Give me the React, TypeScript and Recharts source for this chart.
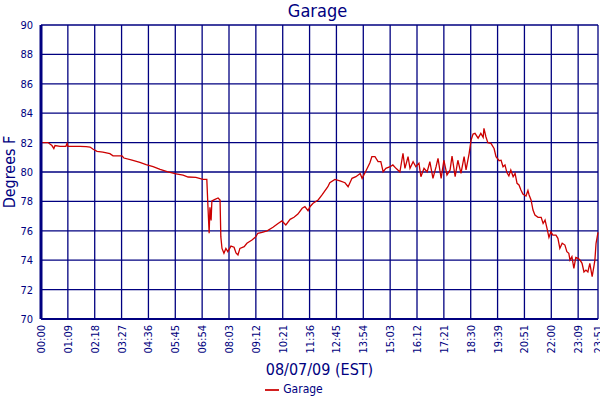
import { LineChart, Line, XAxis, YAxis, CartesianGrid, Legend } from "recharts";

const NAVY = "#000080";
const RED = "#cc0000";
const FONT = "'DejaVu Sans Condensed', 'DejaVu Sans', sans-serif";

// minutes after midnight
const MINUTES = [
  0, 18, 23, 28, 33, 36, 49, 64, 67, 69, 100, 116, 126, 134, 144, 159, 177, 185, 208, 213,
  234, 254, 270, 288, 306, 324, 347, 365, 378, 398, 416, 426, 429, 432, 434, 437, 439, 447, 455, 460,
  462, 465, 470, 475, 480, 488, 496, 501, 506, 511, 522, 529, 542, 552, 557, 568, 581, 596, 609, 619,
  629, 640, 650, 660, 671, 678, 686, 691, 699, 712, 722, 737, 742, 755, 768, 781, 789, 799, 809, 820,
  825, 835, 845, 850, 858, 866, 873, 879, 886, 897, 904, 912, 922, 930, 935, 943, 948, 956, 963, 971,
  976, 984, 992, 999, 1007, 1015, 1020, 1028, 1035, 1043, 1051, 1056, 1064, 1071, 1079, 1087, 1092, 1100, 1105, 1110,
  1115, 1123, 1130, 1136, 1138, 1143, 1148, 1156, 1164, 1169, 1177, 1182, 1187, 1192, 1197, 1202, 1207, 1213, 1218, 1223,
  1228, 1233, 1238, 1246, 1251, 1254, 1259, 1264, 1269, 1277, 1285, 1290, 1295, 1300, 1305, 1310, 1315, 1323, 1328, 1333,
  1339, 1346, 1351, 1356, 1359, 1364, 1369, 1374, 1380, 1385, 1390, 1395, 1400, 1405, 1410, 1416, 1421, 1423, 1426, 1431,
];

const GARAGE = [
  82.0, 82.0, 81.9, 81.8, 81.6, 81.8, 81.75, 81.75, 81.95, 81.75, 81.75, 81.72, 81.7, 81.55, 81.4, 81.35, 81.25, 81.1, 81.1, 80.95,
  80.8, 80.65, 80.5, 80.36, 80.18, 80.02, 79.88, 79.78, 79.66, 79.64, 79.5, 79.5, 77.6, 75.83, 77.6, 76.7, 78.03, 78.14, 78.23, 78.1,
  75.6, 74.8, 74.47, 74.8, 74.58, 74.96, 74.88, 74.5, 74.35, 74.8, 74.92, 75.15, 75.37, 75.6, 75.83, 75.9, 76.0, 76.24, 76.5, 76.67,
  76.4, 76.78, 76.92, 77.14, 77.53, 77.64, 77.37, 77.64, 77.87, 78.1, 78.44, 79.0, 79.27, 79.5, 79.4, 79.27, 79.0, 79.57, 79.68, 79.9,
  79.57, 80.09, 80.63, 81.04, 81.04, 80.7, 80.7, 80.02, 80.25, 80.36, 80.48, 80.25, 80.0, 81.27, 80.25, 81.04, 80.25, 80.7, 80.36, 80.6,
  79.68, 80.25, 80.0, 80.7, 79.57, 80.36, 80.93, 79.57, 80.8, 79.8, 80.14, 81.09, 79.68, 80.8, 79.9, 81.04, 80.14, 81.27, 82.18, 82.58,
  82.63, 82.3, 82.63, 82.36, 82.97, 82.4, 82.0, 81.95, 81.6, 81.04, 80.77, 80.8, 80.36, 80.48, 79.96, 79.73, 80.14, 79.68, 79.9, 79.23,
  79.12, 78.78, 78.5, 78.37, 78.74, 78.44, 78.1, 77.41, 77.07, 76.92, 76.92, 76.5, 76.73, 76.17, 75.56, 75.94, 75.71, 75.71, 75.49, 74.81,
  75.15, 75.03, 74.58, 74.47, 74.01, 74.24, 73.45, 74.19, 74.13, 74.0, 73.79, 73.2, 73.33, 73.2, 73.79, 72.88, 73.67, 74.0, 75.15, 75.9,
];

const TICK_POSITIONS = [
  0, 69, 138, 207, 276, 345, 414, 483, 552, 621, 690, 759, 828, 897, 966, 1035, 1104, 1173, 1242, 1311, 1380, 1431,
];
const TICK_LABELS = [
  "00:00", "01:09", "02:18", "03:27", "04:36", "05:45", "06:54", "08:03", "09:12", "10:21", "11:36",
  "12:45", "13:54", "15:03", "16:12", "17:21", "18:30", "19:39", "20:51", "22:00", "23:09", "23:51",
];

const Y_TICKS = [70, 72, 74, 76, 78, 80, 82, 84, 86, 88, 90];

const data = MINUTES.map((m, i) => ({ minute: m, garage: GARAGE[i] }));

function TimeTick({ x, y, index }: any) {
  return (
    <g transform={`translate(${x},${y}) rotate(-90)`}>
      <text x={-4} y={0} dy="0.36em" textAnchor="end" fill={NAVY} fontSize={11} fontFamily={FONT}>
        {TICK_LABELS[index]}
      </text>
    </g>
  );
}

export default function App() {
  return (
    <div style={{ position: "absolute", left: 0, top: 0, width: 600, height: 400, background: "#fff", fontFamily: FONT }}>
      <div
        style={{
          position: "absolute",
          top: 0,
          left: 0,
          width: 635,
          textAlign: "center",
          color: NAVY,
          fontSize: 18,
          lineHeight: "21px",
        }}
      >
        Garage
      </div>
      <LineChart width={600} height={400} data={data} margin={{ top: 25, right: 2, left: 0, bottom: 0 }}>
        <CartesianGrid stroke={NAVY} strokeWidth={1.3} />
        <XAxis
          dataKey="minute"
          type="number"
          domain={[0, 1431]}
          ticks={TICK_POSITIONS}
          interval={0}
          tick={<TimeTick />}
          tickSize={0}
          tickLine={false}
          axisLine={{ stroke: NAVY, strokeWidth: 2 }}
          height={61}
          label={{
            value: "08/07/09 (EST)",
            position: "insideBottom",
            offset: 5,
            fill: NAVY,
            fontSize: 16,
            fontFamily: FONT,
          }}
        />
        <YAxis
          type="number"
          domain={[70, 90]}
          ticks={Y_TICKS}
          interval={0}
          width={41}
          tickSize={0}
          tickMargin={8}
          tickLine={false}
          axisLine={{ stroke: NAVY, strokeWidth: 3 }}
          tick={{ fill: NAVY, fontSize: 11, fontFamily: FONT }}
          label={{
            value: "Degrees F",
            angle: -90,
            position: "insideLeft",
            offset: 9,
            fill: NAVY,
            fontSize: 16,
            fontFamily: FONT,
            style: { textAnchor: "middle" },
          }}
        />
        <Legend
          verticalAlign="bottom"
          height={20}
          iconType="plainline"
          iconSize={14}
          wrapperStyle={{ fontSize: 12, fontFamily: FONT, top: 382, bottom: "auto" }}
          formatter={(value) => <span style={{ color: NAVY }}>{value}</span>}
        />
        <Line
          type="linear"
          dataKey="garage"
          name="Garage"
          stroke={RED}
          strokeWidth={1.3}
          dot={false}
          isAnimationActive={false}
        />
      </LineChart>
    </div>
  );
}
